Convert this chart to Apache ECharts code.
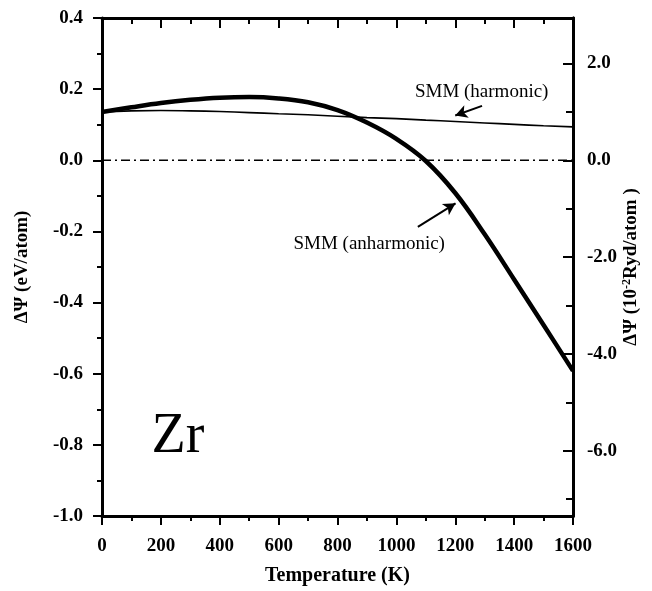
<!DOCTYPE html>
<html>
<head>
<meta charset="utf-8">
<script src="https://cdn.jsdelivr.net/npm/echarts@6/dist/echarts.min.js"></script>
<style>
  html, body { margin: 0; padding: 0; background: #fff; }
  #chart { width: 652px; height: 591px; }
</style>
</head>
<body>
<div id="chart"></div>
<script>
// temperature grid (K)
var temps = [0, 100, 200, 300, 400, 500, 600, 700, 800, 900, 1000, 1100, 1200, 1300, 1400, 1500, 1600];
// SMM (anharmonic), eV/atom
var anharmonic = [0.136, 0.149, 0.161, 0.170, 0.176, 0.178, 0.174, 0.163, 0.141, 0.106, 0.060, -0.002, -0.092, -0.208, -0.335, -0.463, -0.592];
// SMM (harmonic), eV/atom
var harmonic = [0.136, 0.139, 0.140, 0.139, 0.137, 0.134, 0.131, 0.128, 0.124, 0.120, 0.117, 0.113, 0.109, 0.105, 0.101, 0.097, 0.094];

var xTicks = [0, 1600, 200];           // min, max, interval
var leftTicks = [-1.0, 0.4, 0.2];
var rightMajor = [-6, -4, -2, 0, 2];
var rightMinor = [-7, -5, -3, -1, 1];
var EV_TO_RYD = 7.3499;                // 1 eV in 10^-2 Ryd

function pairs(ys) {
  return temps.map(function(t, i) { return [t, ys[i]]; });
}

var serif = 'Liberation Serif, Times New Roman, serif';
var black = '#000';

var chart = echarts.init(document.getElementById('chart'));

var tickLabel = {fontFamily: serif, fontWeight: 'bold', fontSize: 19, color: black};

chart.setOption({
  animation: false,
  grid: {left: 102, right: 79, top: 18, bottom: 75, outerBoundsMode: 'none', containLabel: false},
  xAxis: [
    {
      type: 'value', position: 'bottom',
      min: xTicks[0], max: xTicks[1], interval: xTicks[2],
      axisLine: {onZero: false, lineStyle: {color: black, width: 3}},
      axisTick: {length: 9, lineStyle: {color: black, width: 2}},
      minorTick: {show: true, splitNumber: 2, length: 5, lineStyle: {color: black, width: 2}},
      splitLine: {show: false},
      axisLabel: Object.assign({margin: 21, formatter: function(v) { return String(v); }}, tickLabel),
      name: 'Temperature (K)',
      nameLocation: 'middle',
      nameGap: 50,
      nameMoveOverlap: false,
      nameTextStyle: {fontFamily: serif, fontWeight: 'bold', fontSize: 20, color: black}
    },
    {
      type: 'value', position: 'top',
      min: xTicks[0], max: xTicks[1], interval: xTicks[2],
      axisLine: {onZero: false, lineStyle: {color: black, width: 3}},
      axisTick: {inside: true, length: 10, lineStyle: {color: black, width: 2}},
      minorTick: {show: true, splitNumber: 2, length: 6, lineStyle: {color: black, width: 2}},
      splitLine: {show: false},
      axisLabel: {show: false}
    }
  ],
  yAxis: [
    {
      type: 'value', position: 'left',
      min: leftTicks[0], max: leftTicks[1], interval: leftTicks[2],
      axisLine: {show: true, onZero: false, lineStyle: {color: black, width: 3}},
      axisTick: {show: true, length: 9, lineStyle: {color: black, width: 2}},
      minorTick: {show: true, splitNumber: 2, length: 5, lineStyle: {color: black, width: 2}},
      splitLine: {show: false},
      axisLabel: Object.assign({margin: 19, formatter: function(v) { return v.toFixed(1); }}, tickLabel),
      name: 'ΔΨ (eV/atom)',
      nameLocation: 'middle',
      nameRotate: 90,
      nameGap: 70,
      nameMoveOverlap: false,
      nameTextStyle: {fontFamily: serif, fontWeight: 'bold', fontSize: 19, color: black}
    },
    {
      type: 'value', position: 'right', offset: 0,
      min: leftTicks[0] * EV_TO_RYD, max: leftTicks[1] * EV_TO_RYD,
      axisLine: {show: true, onZero: false, lineStyle: {color: black, width: 3}},
      axisTick: {show: true, inside: true, length: 10, customValues: rightMajor, lineStyle: {color: black, width: 2}},
      splitLine: {show: false},
      axisLabel: Object.assign({margin: 14, customValues: rightMajor, formatter: function(v) { return v.toFixed(1); }}, tickLabel),
      name: '{a|ΔΨ (10}{s|-2}{a|Ryd/atom )}',
      nameLocation: 'middle',
      nameRotate: 90,
      nameGap: 48,
      nameMoveOverlap: false,
      nameTextStyle: {
        fontFamily: serif, fontWeight: 'bold', fontSize: 19, color: black,
        rich: {
          a: {fontFamily: serif, fontWeight: 'bold', fontSize: 19, color: black, verticalAlign: 'bottom'},
          s: {fontFamily: serif, fontWeight: 'bold', fontSize: 12, color: black, verticalAlign: 'top', padding: [0, 0, 8, 0]}
        }
      }
    },
    {
      type: 'value', position: 'right', offset: 0,
      min: leftTicks[0] * EV_TO_RYD, max: leftTicks[1] * EV_TO_RYD,
      axisLine: {show: true, onZero: false, lineStyle: {color: black, width: 3}},
      axisTick: {show: true, inside: true, length: 7, customValues: rightMinor, lineStyle: {color: black, width: 2}},
      splitLine: {show: false},
      axisLabel: {show: false}
    }
  ],
  series: [
    {
      name: 'zero',
      type: 'line',
      xAxisIndex: 0, yAxisIndex: 0,
      data: [[xTicks[0], 0], [xTicks[1], 0]],
      symbol: 'none',
      lineStyle: {color: black, width: 1.5, type: [9, 4, 2, 4]},
      silent: true
    },
    {
      name: 'SMM (harmonic)',
      type: 'line',
      xAxisIndex: 0, yAxisIndex: 0,
      data: pairs(harmonic),
      smooth: true,
      symbol: 'none',
      lineStyle: {color: black, width: 1.6},
      markLine: {
        silent: true,
        symbol: ['none', 'arrow'],
        symbolSize: [10, 12],
        label: {show: false},
        lineStyle: {color: black, width: 2, type: 'solid'},
        data: [[{coord: [1291, 0.153]}, {coord: [1200, 0.126]}]]
      }
    },
    {
      name: 'SMM (anharmonic)',
      type: 'line',
      xAxisIndex: 0, yAxisIndex: 0,
      data: pairs(anharmonic),
      smooth: 0.4,
      symbol: 'none',
      lineStyle: {color: black, width: 4.5},
      markLine: {
        silent: true,
        symbol: ['none', 'arrow'],
        symbolSize: [10, 12],
        label: {show: false},
        lineStyle: {color: black, width: 2, type: 'solid'},
        data: [[{coord: [1073, -0.187]}, {coord: [1201, -0.121]}]]
      }
    }
  ]
});

// text annotations anchored in data space
var hp = chart.convertToPixel({xAxisIndex: 0, yAxisIndex: 0}, [1063, 0.193]);
var ap = chart.convertToPixel({xAxisIndex: 0, yAxisIndex: 0}, [1165, -0.235]);
chart.setOption({
  graphic: [
    {
      type: 'text', x: hp[0], y: hp[1], silent: true,
      style: {text: 'SMM (harmonic)', font: '19px ' + serif, fill: black, textAlign: 'left', textVerticalAlign: 'middle'}
    },
    {
      type: 'text', x: ap[0], y: ap[1], silent: true,
      style: {text: 'SMM (anharmonic)', font: '19px ' + serif, fill: black, textAlign: 'right', textVerticalAlign: 'middle'}
    },
    {
      type: 'text', x: 178, y: 437, silent: true,
      style: {text: 'Zr', font: '56px ' + serif, fill: black, textAlign: 'center', textVerticalAlign: 'middle'}
    }
  ]
});
</script>
</body>
</html>
